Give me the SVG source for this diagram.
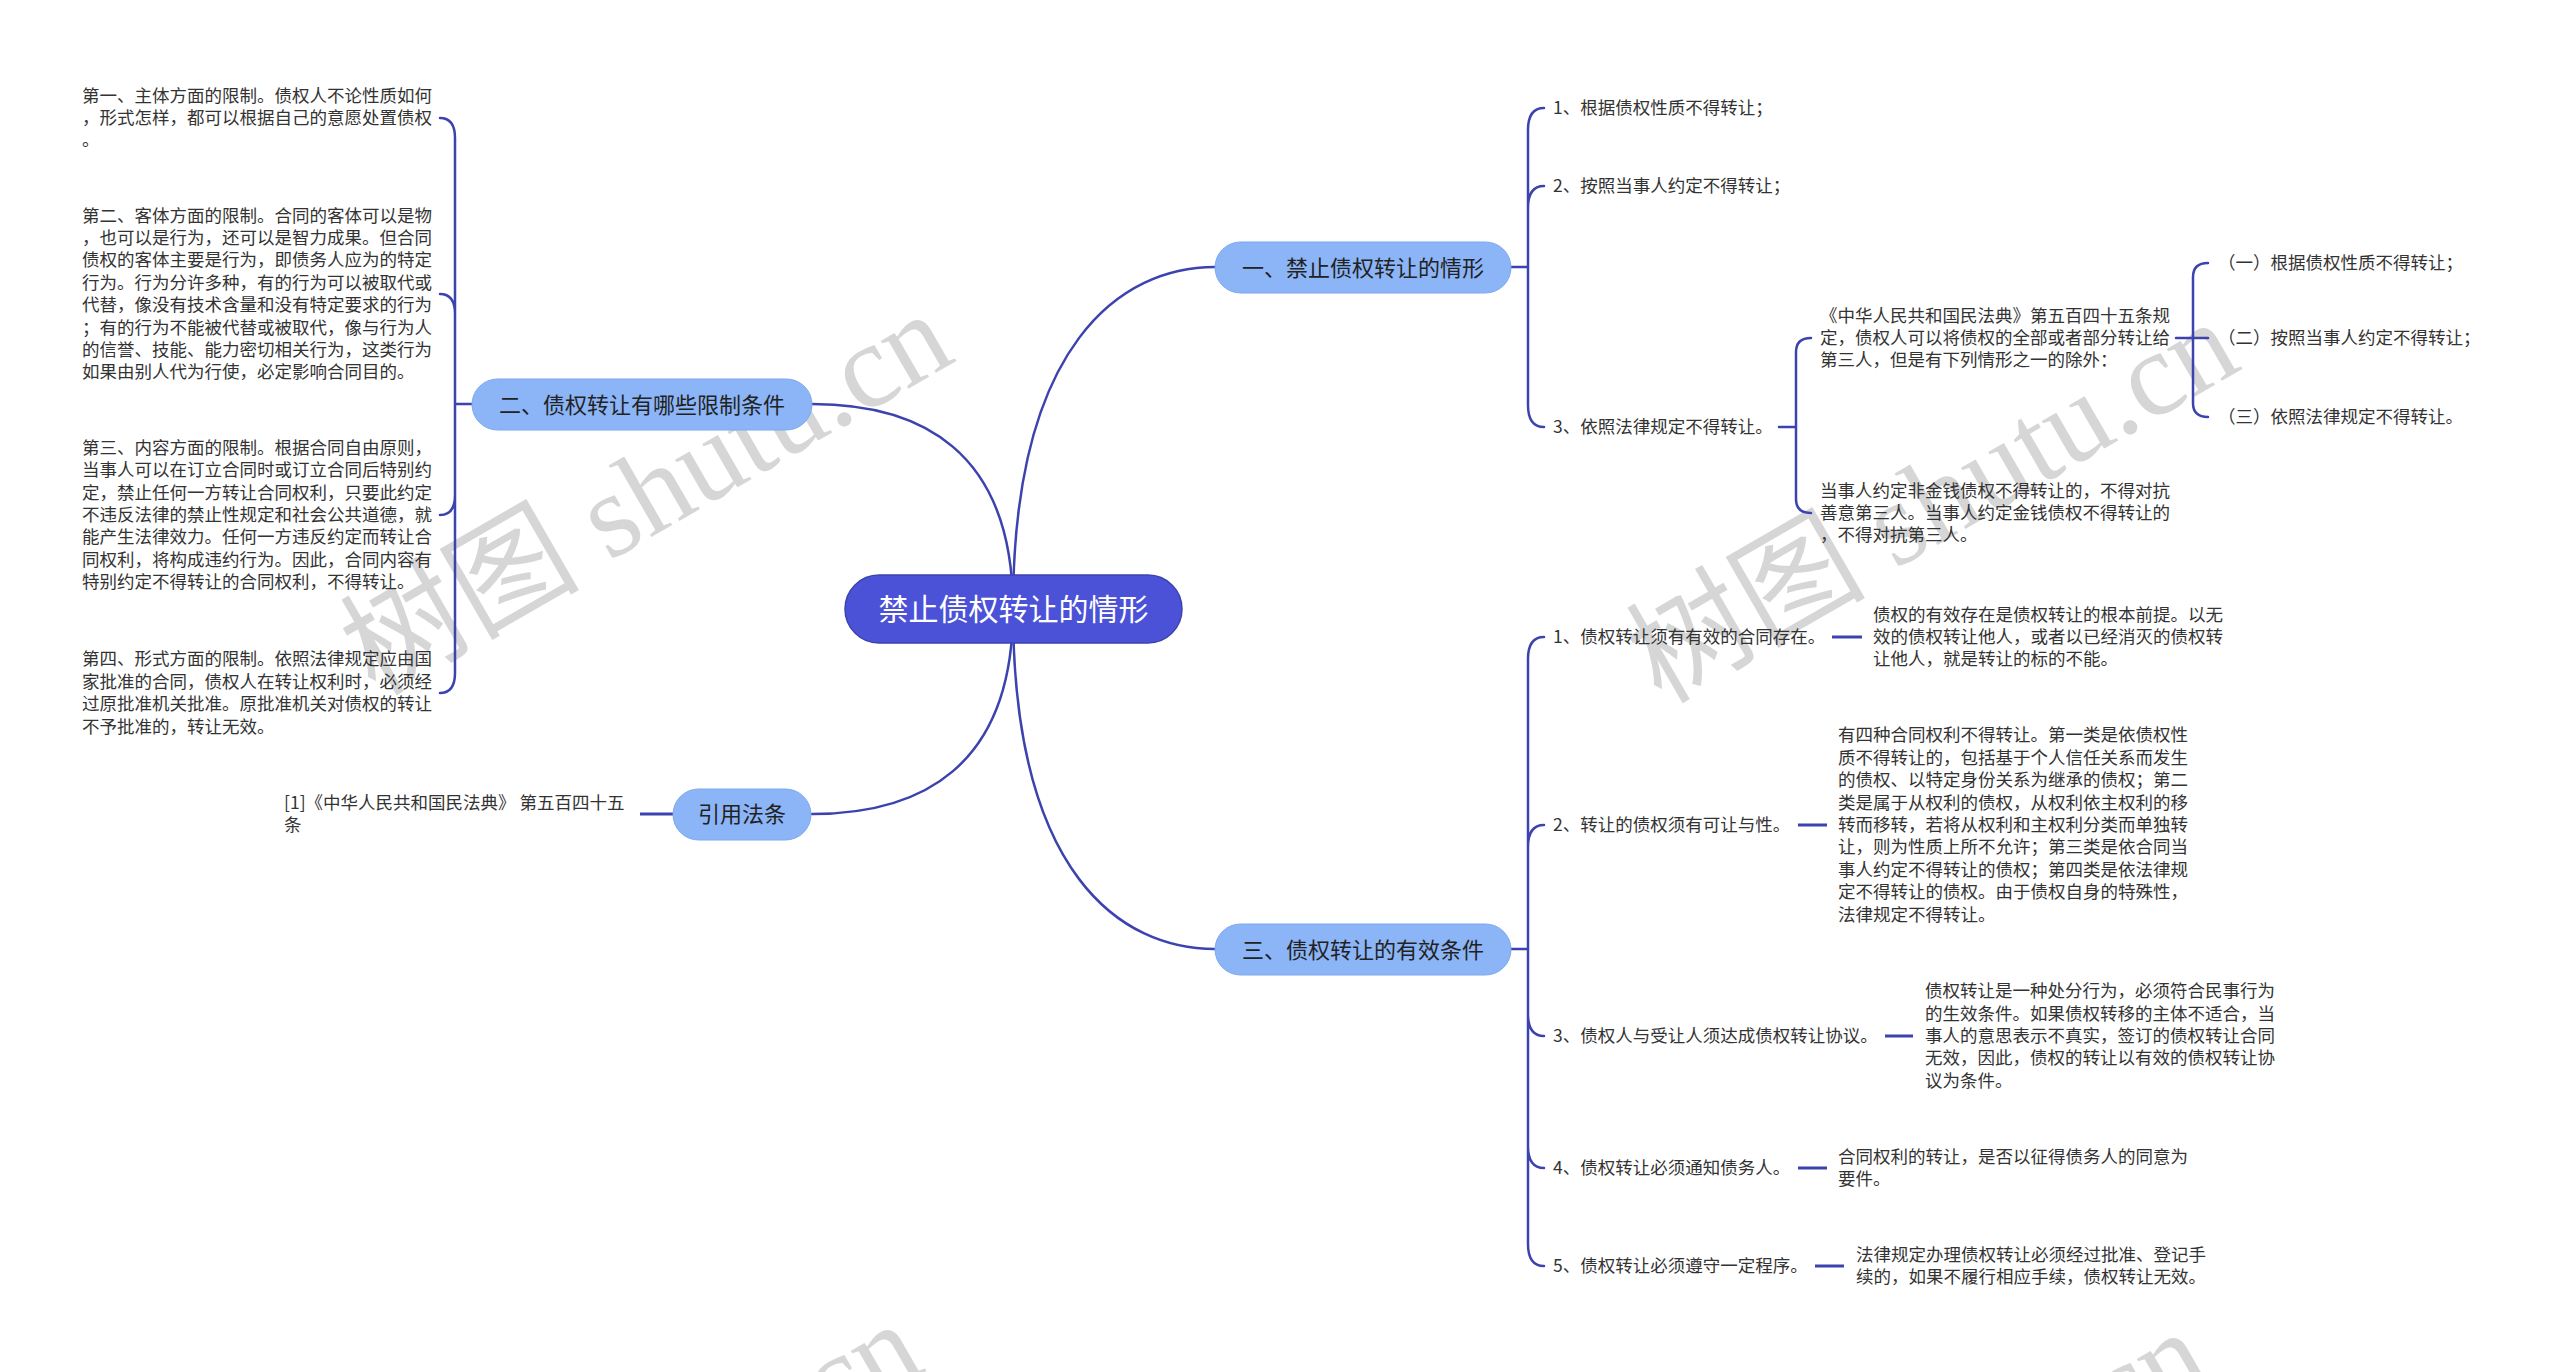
<svg xmlns="http://www.w3.org/2000/svg" width="2560" height="1372" viewBox="0 0 2560 1372">
<style>
.wm{font-family:"Liberation Serif","Noto Sans CJK SC",serif;font-size:120px;fill:#d6d6d6}
.ln{fill:none;stroke:#3C43AE;stroke-width:2.5;stroke-linecap:round}
.stub{fill:none;stroke:#3C43AE;stroke-width:3}
.root rect{fill:#4B52D7;stroke:#3C43AE;stroke-width:1.5}
.root text{font-family:"Noto Sans CJK SC",sans-serif;font-size:30px;fill:#fff;text-anchor:middle}
.br rect{fill:#8BB5F7;stroke:#7DA8EE;stroke-width:1}
.br text{font-family:"Noto Sans CJK SC",sans-serif;font-size:22px;fill:#222;text-anchor:middle}
.t{font-family:"Noto Sans CJK SC",sans-serif;font-size:17.5px;fill:#333}
</style>
<rect width="2560" height="1372" fill="#fff"/>
<g id="watermarks">
<text class="wm" transform="translate(649,498) rotate(-30)" text-anchor="middle" y="35">树图 shutu.cn</text>
<text class="wm" transform="translate(1935,506) rotate(-30)" text-anchor="middle" y="35">树图 shutu.cn</text>
<text class="wm" transform="translate(619,1508) rotate(-30)" text-anchor="middle" y="35">树图 shutu.cn</text>
<text class="wm" transform="translate(1905,1516) rotate(-30)" text-anchor="middle" y="35">树图 shutu.cn</text>
</g>
<g id="connectors">
<path class="ln" d="M1013 609 C1013 342 1122 267 1215 267"/>
<path class="ln" d="M1013 609 C1013 876 1122 949 1215 949"/>
<path class="ln" d="M1013 609 C1013 450 920 404 812 404"/>
<path class="ln" d="M1013 609 C1013 768 920 814 812 814"/>
<path class="ln" d="M1511 267 H1528 M1528 267 V130 Q1528 108 1544 108 M1528 267 V208 Q1528 186 1544 186 M1528 267 V405 Q1528 427 1544 427"/>
<path class="ln" d="M1779 427 H1796 M1796 427 V352 Q1796 338 1811 338 M1796 427 V499 Q1796 513 1811 513"/>
<path class="ln" d="M2176 338 H2208 M2193 338 V277 Q2193 263 2208 263 M2193 338 V403 Q2193 417 2208 417"/>
<path class="ln" d="M1511 949 H1528 M1528 949 V659 Q1528 637 1544 637 M1528 949 V847 Q1528 825 1544 825 M1528 949 V1014 Q1528 1036 1544 1036 M1528 949 V1146 Q1528 1168 1544 1168 M1528 949 V1244 Q1528 1266 1544 1266"/>
<path class="ln" d="M472 404 H455 M455 404 V138 Q455 118 440 118 M455 404 V314 Q455 294 440 294 M455 404 V495 Q455 515 440 515 M455 404 V673 Q455 693 440 693"/>
<path class="stub" d="M640 814 H673"/>
<path class="stub" d="M1832 637 H1862 M1798 825 H1827 M1885 1036 H1913 M1798 1168 H1827 M1815 1266 H1844"/>
</g>
<g id="root" class="root">
<rect x="845" y="575" width="337" height="68" rx="34"/>
<text x="1013.5" y="620">禁止债权转让的情形</text>
</g>
<g id="b1" class="br">
<rect x="1215" y="242" width="296" height="51" rx="25.5"/>
<text x="1363" y="275.5">一、禁止债权转让的情形</text>
</g>
<g id="b2" class="br">
<rect x="472" y="379" width="340" height="51" rx="25.5"/>
<text x="642" y="412.5">二、债权转让有哪些限制条件</text>
</g>
<g id="b3" class="br">
<rect x="1215" y="924" width="296" height="51" rx="25.5"/>
<text x="1363" y="957.5">三、债权转让的有效条件</text>
</g>
<g id="b4" class="br">
<rect x="673" y="789" width="138" height="51" rx="25.5"/>
<text x="742" y="822">引用法条</text>
</g>
<g id="b1c1"><text class="t" x="1553" y="114">1、根据债权性质不得转让；</text></g>
<g id="b1c2"><text class="t" x="1553" y="192">2、按照当事人约定不得转让；</text></g>
<g id="b1c3"><text class="t" x="1553" y="433">3、依照法律规定不得转让。</text></g>
<g id="b1c3a"><text class="t"><tspan x="1820" y="321.6">《中华人民共和国民法典》第五百四十五条规</tspan><tspan x="1820" y="344">定，债权人可以将债权的全部或者部分转让给</tspan><tspan x="1820" y="366.4">第三人，但是有下列情形之一的除外：</tspan></text></g>
<g id="b1c3b"><text class="t"><tspan x="1820" y="496.6">当事人约定非金钱债权不得转让的，不得对抗</tspan><tspan x="1820" y="519">善意第三人。当事人约定金钱债权不得转让的</tspan><tspan x="1820" y="541.4">，不得对抗第三人。</tspan></text></g>
<g id="b1c3a1"><text class="t" x="2218" y="269">（一）根据债权性质不得转让；</text></g>
<g id="b1c3a2"><text class="t" x="2218" y="344">（二）按照当事人约定不得转让；</text></g>
<g id="b1c3a3"><text class="t" x="2218" y="423">（三）依照法律规定不得转让。</text></g>
<g id="b2c1"><text class="t"><tspan x="82" y="101.6">第一、主体方面的限制。债权人不论性质如何</tspan><tspan x="82" y="124">，形式怎样，都可以根据自己的意愿处置债权</tspan><tspan x="82" y="146.4">。</tspan></text></g>
<g id="b2c2"><text class="t"><tspan x="82" y="221.6">第二、客体方面的限制。合同的客体可以是物</tspan><tspan x="82" y="244">，也可以是行为，还可以是智力成果。但合同</tspan><tspan x="82" y="266.4">债权的客体主要是行为，即债务人应为的特定</tspan><tspan x="82" y="288.8">行为。行为分许多种，有的行为可以被取代或</tspan><tspan x="82" y="311.2">代替，像没有技术含量和没有特定要求的行为</tspan><tspan x="82" y="333.6">；有的行为不能被代替或被取代，像与行为人</tspan><tspan x="82" y="356">的信誉、技能、能力密切相关行为，这类行为</tspan><tspan x="82" y="378.4">如果由别人代为行使，必定影响合同目的。</tspan></text></g>
<g id="b2c3"><text class="t"><tspan x="82" y="453.8">第三、内容方面的限制。根据合同自由原则，</tspan><tspan x="82" y="476.2">当事人可以在订立合同时或订立合同后特别约</tspan><tspan x="82" y="498.6">定，禁止任何一方转让合同权利，只要此约定</tspan><tspan x="82" y="521">不违反法律的禁止性规定和社会公共道德，就</tspan><tspan x="82" y="543.4">能产生法律效力。任何一方违反约定而转让合</tspan><tspan x="82" y="565.8">同权利，将构成违约行为。因此，合同内容有</tspan><tspan x="82" y="588.2">特别约定不得转让的合同权利，不得转让。</tspan></text></g>
<g id="b2c4"><text class="t"><tspan x="82" y="665.4">第四、形式方面的限制。依照法律规定应由国</tspan><tspan x="82" y="687.8">家批准的合同，债权人在转让权利时，必须经</tspan><tspan x="82" y="710.2">过原批准机关批准。原批准机关对债权的转让</tspan><tspan x="82" y="732.6">不予批准的，转让无效。</tspan></text></g>
<g id="b4c1"><text class="t"><tspan x="284" y="808.8">[1]《中华人民共和国民法典》 第五百四十五</tspan><tspan x="284" y="831.2">条</tspan></text></g>
<g id="b3c1"><text class="t" x="1553" y="643">1、债权转让须有有效的合同存在。</text></g>
<g id="b3c1a"><text class="t"><tspan x="1873" y="620.6">债权的有效存在是债权转让的根本前提。以无</tspan><tspan x="1873" y="643">效的债权转让他人，或者以已经消灭的债权转</tspan><tspan x="1873" y="665.4">让他人，就是转让的标的不能。</tspan></text></g>
<g id="b3c2"><text class="t" x="1553" y="831">2、转让的债权须有可让与性。</text></g>
<g id="b3c2a"><text class="t"><tspan x="1838" y="741.4">有四种合同权利不得转让。第一类是依债权性</tspan><tspan x="1838" y="763.8">质不得转让的，包括基于个人信任关系而发生</tspan><tspan x="1838" y="786.2">的债权、以特定身份关系为继承的债权；第二</tspan><tspan x="1838" y="808.6">类是属于从权利的债权，从权利依主权利的移</tspan><tspan x="1838" y="831">转而移转，若将从权利和主权利分类而单独转</tspan><tspan x="1838" y="853.4">让，则为性质上所不允许；第三类是依合同当</tspan><tspan x="1838" y="875.8">事人约定不得转让的债权；第四类是依法律规</tspan><tspan x="1838" y="898.2">定不得转让的债权。由于债权自身的特殊性，</tspan><tspan x="1838" y="920.6">法律规定不得转让。</tspan></text></g>
<g id="b3c3"><text class="t" x="1553" y="1042">3、债权人与受让人须达成债权转让协议。</text></g>
<g id="b3c3a"><text class="t"><tspan x="1925" y="997.2">债权转让是一种处分行为，必须符合民事行为</tspan><tspan x="1925" y="1019.6">的生效条件。如果债权转移的主体不适合，当</tspan><tspan x="1925" y="1042">事人的意思表示不真实，签订的债权转让合同</tspan><tspan x="1925" y="1064.4">无效，因此，债权的转让以有效的债权转让协</tspan><tspan x="1925" y="1086.8">议为条件。</tspan></text></g>
<g id="b3c4"><text class="t" x="1553" y="1174">4、债权转让必须通知债务人。</text></g>
<g id="b3c4a"><text class="t"><tspan x="1838" y="1162.8">合同权利的转让，是否以征得债务人的同意为</tspan><tspan x="1838" y="1185.2">要件。</tspan></text></g>
<g id="b3c5"><text class="t" x="1553" y="1272">5、债权转让必须遵守一定程序。</text></g>
<g id="b3c5a"><text class="t"><tspan x="1856" y="1260.8">法律规定办理债权转让必须经过批准、登记手</tspan><tspan x="1856" y="1283.2">续的，如果不履行相应手续，债权转让无效。</tspan></text></g>
</svg>
